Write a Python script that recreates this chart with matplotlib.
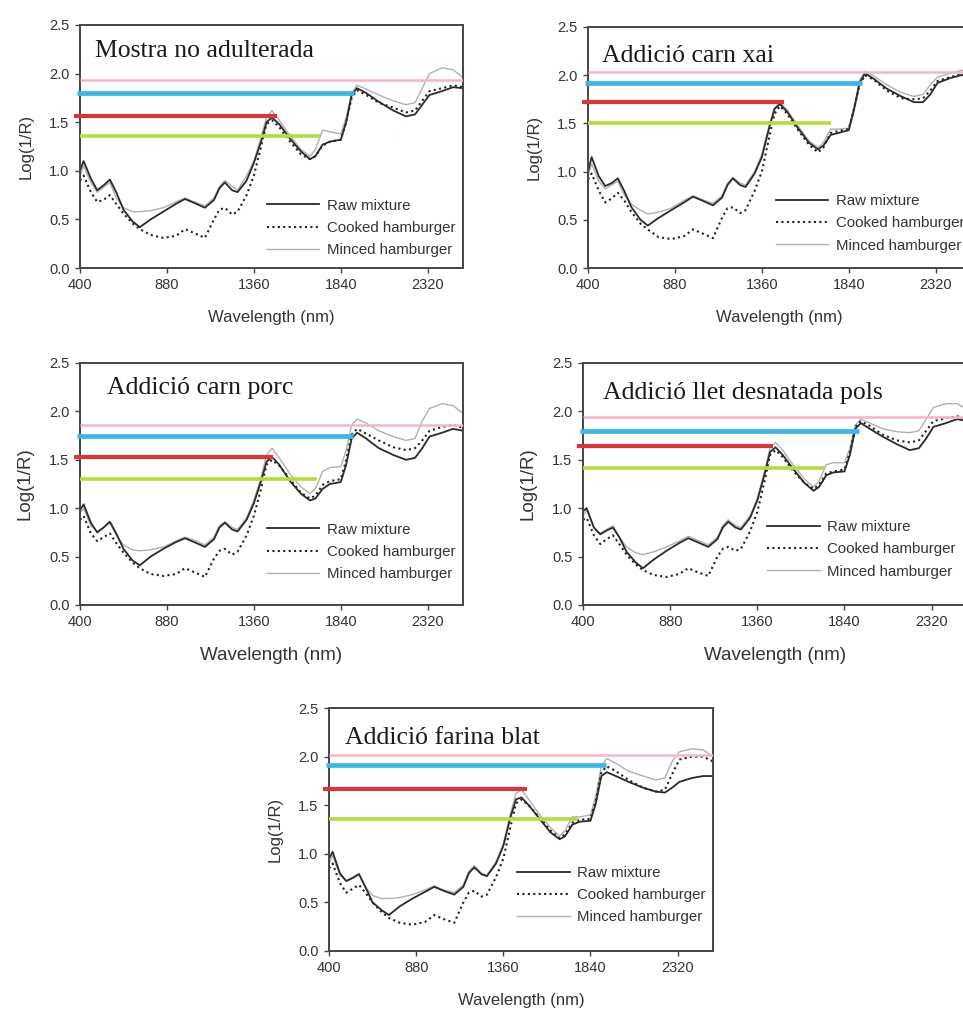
import matplotlib
matplotlib.use("Agg")
import matplotlib.pyplot as plt
from matplotlib.lines import Line2D

plt.rcParams['font.family'] = ['Liberation Sans', 'DejaVu Sans']

# ---------------- data ----------------
wavelength = [400, 420, 460, 495, 530, 565, 600, 640, 690, 730, 790, 860, 930, 980,
              1030, 1090, 1140, 1170, 1200, 1240, 1270, 1320, 1360, 1400, 1430, 1460,
              1500, 1560, 1620, 1670, 1700, 1740, 1780, 1840, 1870, 1900, 1930, 1980,
              2050, 2130, 2200, 2250, 2290, 2330, 2400, 2460, 2515]

titles = ["Mostra no adulterada", "Addició carn xai", "Addició carn porc",
          "Addició llet desnatada pols", "Addició farina blat"]
series_names = ["Raw mixture", "Cooked hamburger", "Minced hamburger"]

raw_p1 = [1.0, 1.1, 0.92, 0.8, 0.85, 0.91, 0.78, 0.6, 0.48, 0.42, 0.5, 0.58, 0.66, 0.71,
          0.67, 0.62, 0.7, 0.82, 0.88, 0.8, 0.78, 0.9, 1.08, 1.3, 1.5, 1.55,
          1.48, 1.33, 1.2, 1.12, 1.15, 1.27, 1.3, 1.32, 1.5, 1.78, 1.85, 1.8,
          1.71, 1.62, 1.56, 1.58, 1.68, 1.78, 1.82, 1.86, 1.85]
cooked_p1 = [0.9, 0.95, 0.78, 0.68, 0.7, 0.75, 0.66, 0.56, 0.46, 0.4, 0.34, 0.31, 0.33, 0.4,
             0.36, 0.31, 0.5, 0.6, 0.62, 0.55, 0.58, 0.75, 0.95, 1.25, 1.48, 1.52,
             1.45, 1.3, 1.17, 1.12, 1.15, 1.26, 1.3, 1.32, 1.5, 1.75, 1.83, 1.78,
             1.7, 1.65, 1.6, 1.62, 1.72, 1.82, 1.85, 1.88, 1.86]
minced_p1 = [0.95, 1.05, 0.88, 0.78, 0.83, 0.88, 0.72, 0.62, 0.58, 0.58, 0.59, 0.62, 0.68, 0.72,
             0.68, 0.64, 0.72, 0.84, 0.9, 0.84, 0.8, 0.95, 1.1, 1.35, 1.55, 1.62,
             1.52, 1.36, 1.22, 1.15, 1.22, 1.42, 1.4, 1.38, 1.55, 1.8, 1.88, 1.84,
             1.78, 1.72, 1.68, 1.7, 1.85, 2.0, 2.06, 2.04, 1.96]

raw_p2 = [1.0, 1.15, 0.95, 0.85, 0.88, 0.93, 0.8, 0.63, 0.5, 0.44, 0.52, 0.6, 0.68, 0.74,
          0.7, 0.65, 0.73, 0.86, 0.93, 0.86, 0.84, 0.98, 1.15, 1.45, 1.65, 1.7,
          1.62, 1.45, 1.3, 1.23, 1.27, 1.38, 1.4, 1.43, 1.65, 1.92, 2.02, 1.96,
          1.86, 1.78, 1.72, 1.72, 1.8, 1.92, 1.97, 2.0, 2.02]
cooked_p2 = [0.92, 0.98, 0.8, 0.68, 0.72, 0.78, 0.7, 0.58, 0.46, 0.4, 0.32, 0.3, 0.33, 0.4,
             0.36, 0.31, 0.52, 0.62, 0.63, 0.57, 0.6, 0.8, 1.0, 1.35, 1.6, 1.68,
             1.6, 1.43, 1.28, 1.2, 1.25, 1.4, 1.42, 1.44, 1.66, 1.9, 2.0, 1.95,
             1.84, 1.76, 1.75, 1.76, 1.84, 1.94, 1.98, 2.01, 2.02]
minced_p2 = [0.95, 1.08, 0.9, 0.82, 0.86, 0.9, 0.76, 0.66, 0.6, 0.56, 0.58, 0.62, 0.7, 0.75,
             0.71, 0.67, 0.75, 0.88, 0.94, 0.88, 0.86, 1.0, 1.18, 1.48, 1.66, 1.72,
             1.64, 1.47, 1.32, 1.25, 1.3, 1.44, 1.44, 1.45, 1.68, 1.95, 2.04, 1.99,
             1.9, 1.82, 1.78, 1.8, 1.9, 1.98, 2.02, 2.05, 2.05]

raw_p3 = [0.98, 1.04, 0.85, 0.75, 0.8, 0.86, 0.74, 0.58, 0.46, 0.41, 0.5, 0.58, 0.65, 0.69,
          0.65, 0.6, 0.68, 0.8, 0.85, 0.78, 0.76, 0.88, 1.05, 1.28, 1.48, 1.53,
          1.45, 1.28, 1.15, 1.08, 1.1, 1.2, 1.25, 1.27, 1.45, 1.72, 1.78, 1.72,
          1.62, 1.55, 1.5, 1.52, 1.62, 1.74, 1.78, 1.82, 1.8]
cooked_p3 = [0.88, 0.92, 0.74, 0.66, 0.7, 0.74, 0.64, 0.54, 0.44, 0.38, 0.32, 0.3, 0.32, 0.38,
             0.34, 0.29, 0.48, 0.56, 0.58, 0.52, 0.55, 0.72, 0.92, 1.2, 1.45, 1.5,
             1.44, 1.3, 1.16, 1.1, 1.13, 1.24, 1.28, 1.3, 1.5, 1.76, 1.82, 1.77,
             1.7, 1.63, 1.6, 1.62, 1.7, 1.8, 1.84, 1.86, 1.83]
minced_p3 = [0.95, 1.0, 0.82, 0.76, 0.8, 0.85, 0.72, 0.62, 0.57, 0.56, 0.57, 0.6, 0.66, 0.7,
             0.67, 0.62, 0.7, 0.82, 0.86, 0.8, 0.78, 0.9, 1.08, 1.32, 1.55, 1.62,
             1.52, 1.35, 1.22, 1.15, 1.2, 1.38, 1.42, 1.43, 1.6, 1.86, 1.92, 1.88,
             1.8, 1.74, 1.7, 1.72, 1.9, 2.03, 2.08, 2.06, 1.98]

raw_p4 = [0.97, 1.0, 0.8, 0.73, 0.77, 0.8, 0.7, 0.55, 0.44, 0.38, 0.47, 0.56, 0.64, 0.69,
          0.65, 0.6, 0.68, 0.8, 0.86, 0.8, 0.78, 0.9, 1.08, 1.35, 1.58, 1.63,
          1.55, 1.4, 1.26, 1.18, 1.22, 1.34, 1.37, 1.38, 1.55, 1.82, 1.88, 1.82,
          1.74, 1.66, 1.6, 1.62, 1.72, 1.84, 1.88, 1.92, 1.9]
cooked_p4 = [0.88, 0.9, 0.72, 0.63, 0.68, 0.72, 0.63, 0.52, 0.42, 0.36, 0.31, 0.29, 0.32, 0.38,
             0.34, 0.3, 0.5, 0.58, 0.6, 0.56, 0.58, 0.76, 0.96, 1.28, 1.55, 1.6,
             1.53, 1.38, 1.26, 1.2, 1.24, 1.36, 1.38, 1.4, 1.58, 1.84, 1.9, 1.85,
             1.76, 1.7, 1.68, 1.7, 1.8, 1.9, 1.93, 1.95, 1.92]
minced_p4 = [0.92, 0.98, 0.8, 0.74, 0.78, 0.82, 0.7, 0.6, 0.54, 0.52, 0.55, 0.6, 0.66, 0.71,
             0.67, 0.62, 0.7, 0.82, 0.88, 0.82, 0.8, 0.92, 1.1, 1.38, 1.62, 1.68,
             1.6, 1.44, 1.3, 1.22, 1.28, 1.45, 1.47, 1.47, 1.62, 1.86, 1.92, 1.88,
             1.82, 1.79, 1.78, 1.8, 1.92, 2.04, 2.08, 2.08, 2.02]

raw_p5 = [0.95, 1.02, 0.8, 0.72, 0.75, 0.79, 0.66, 0.5, 0.42, 0.37, 0.46, 0.54, 0.61, 0.66,
          0.62, 0.58, 0.66, 0.8, 0.86, 0.79, 0.77, 0.9, 1.08, 1.38, 1.56, 1.58,
          1.5, 1.36, 1.22, 1.15, 1.18, 1.3, 1.33, 1.34, 1.52, 1.8, 1.84, 1.8,
          1.74, 1.68, 1.64, 1.63, 1.68, 1.74, 1.78, 1.8, 1.8]
cooked_p5 = [0.85, 0.9, 0.7, 0.6, 0.64, 0.68, 0.6, 0.5, 0.4, 0.34, 0.29, 0.27, 0.3, 0.37,
             0.33, 0.29, 0.5, 0.6, 0.62, 0.56, 0.58, 0.76, 0.95, 1.28, 1.52, 1.56,
             1.5, 1.37, 1.24, 1.16, 1.2, 1.32, 1.35, 1.36, 1.55, 1.84, 1.9, 1.85,
             1.76, 1.68, 1.64, 1.66, 1.82, 1.97, 2.0, 2.0, 1.95]
minced_p5 = [0.9, 0.98, 0.78, 0.72, 0.76, 0.8, 0.66, 0.57, 0.54, 0.54, 0.55, 0.58, 0.63, 0.67,
             0.63, 0.6, 0.68, 0.82, 0.88, 0.8, 0.78, 0.92, 1.1, 1.42, 1.62, 1.66,
             1.56, 1.4, 1.27, 1.18, 1.24, 1.38, 1.38, 1.4, 1.6, 1.9, 1.98, 1.93,
             1.85, 1.8, 1.76, 1.78, 1.95, 2.05, 2.08, 2.07, 2.0]

raw_all = [raw_p1, raw_p2, raw_p3, raw_p4, raw_p5]
cooked_all = [cooked_p1, cooked_p2, cooked_p3, cooked_p4, cooked_p5]
minced_all = [minced_p1, minced_p2, minced_p3, minced_p4, minced_p5]

# coloured reference lines: level and end wavelength per panel
pink_level = [1.93, 2.03, 1.86, 1.94, 2.02]
blue_level = [1.80, 1.92, 1.75, 1.80, 1.91]
blue_end = [1912, 1913, 1906, 1920, 1925]
red_level = [1.56, 1.72, 1.53, 1.64, 1.67]
red_end = [1487, 1484, 1465, 1445, 1490]
green_level = [1.36, 1.50, 1.30, 1.42, 1.36]
green_end = [1724, 1743, 1707, 1735, 1770]
line_start = 400
red_start = 365
blue_start = 385
x_end = 2515

x_ticks = [400, 880, 1360, 1840, 2320]
y_ticks = [0.0, 0.5, 1.0, 1.5, 2.0, 2.5]

# ---------------- layout ----------------
W, H = 963, 1009
fig = plt.figure(figsize=(W / 100, H / 100), dpi=100)
fig.patch.set_facecolor('white')

# (left px, top px, width px, bottom px)
boxes = [(80, 25, 383, 268), (588, 27, 383, 268), (80, 363, 383, 605),
         (583, 363, 384, 605), (329, 708, 384, 951)]
title_pos = [(0.04, 0.87), (0.037, 0.855), (0.07, 0.87), (0.052, 0.85), (0.042, 0.85)]
legend_pos = [(0.488, 0.165), (0.49, 0.185), (0.488, 0.22), (0.48, 0.23), (0.49, 0.23)]
xlabel_size = [12, 12, 13.5, 13.5, 12]
ylabel_size = [12, 12, 13.5, 13.5, 12]

for i in range(5):
    l, t, w, b = boxes[i]
    ax = fig.add_axes([l / W, 1 - b / H, w / W, (b - t) / H])
    ax.set_xlim(400, x_end)
    ax.set_ylim(0, 2.5)

    ax.plot(wavelength, minced_all[i], color='#b0b0b0', lw=1.0, zorder=2,
            label=series_names[2])
    ax.plot(wavelength, cooked_all[i], color='#222222', lw=1.5,
            linestyle=(0, (1, 1.6)), zorder=2, label=series_names[1])
    ax.plot(wavelength, raw_all[i], color='#2a2a2a', lw=1.3, zorder=2.5,
            label=series_names[0])

    ax.plot([line_start, x_end], [pink_level[i]] * 2, color='#f6b4c6', lw=1.8,
            zorder=3, solid_capstyle='butt')
    ax.plot([blue_start, blue_end[i]], [blue_level[i]] * 2, color='#3cb6e6', lw=3.4,
            zorder=3, clip_on=False, solid_capstyle='butt')
    ax.plot([red_start, red_end[i]], [red_level[i]] * 2, color='#dd3438', lw=3.0,
            zorder=3, clip_on=False, solid_capstyle='butt')
    ax.plot([line_start, green_end[i]], [green_level[i]] * 2, color='#b4dc3c', lw=2.6,
            zorder=3, solid_capstyle='butt')

    ax.text(title_pos[i][0], title_pos[i][1], titles[i], transform=ax.transAxes,
            family=['Liberation Serif', 'DejaVu Serif'], fontsize=18.5, color='#1a1a1a',
            va='baseline', ha='left', zorder=4)

    ax.set_xticks(x_ticks)
    ax.set_yticks(y_ticks)
    ax.set_yticklabels([f"{v:.1f}" for v in y_ticks])
    ax.tick_params(direction='out', length=3.5, width=1.0, colors='#444444',
                   labelsize=10.5, labelcolor='#333333', pad=4)
    for s in ax.spines.values():
        s.set_color('#444444')
        s.set_linewidth(1.4)
    ax.set_xlabel("Wavelength (nm)", fontsize=xlabel_size[i], color='#333333', labelpad=13)
    ax.set_ylabel("Log(1/R)", fontsize=ylabel_size[i], color='#333333', labelpad=11)

    handles = [Line2D([], [], color='#2a2a2a', lw=1.3),
               Line2D([], [], color='#222222', lw=1.5, linestyle=(0, (1, 1.6))),
               Line2D([], [], color='#b0b0b0', lw=1.0)]
    leg = ax.legend(handles, series_names, loc='center left',
                    bbox_to_anchor=legend_pos[i], frameon=False, fontsize=10.8,
                    handlelength=3.5, handletextpad=0.5, labelspacing=0.55,
                    borderpad=0, borderaxespad=0)
    for txt in leg.get_texts():
        txt.set_color('#333333')

fig.savefig("out.png", dpi=100, facecolor='white')
